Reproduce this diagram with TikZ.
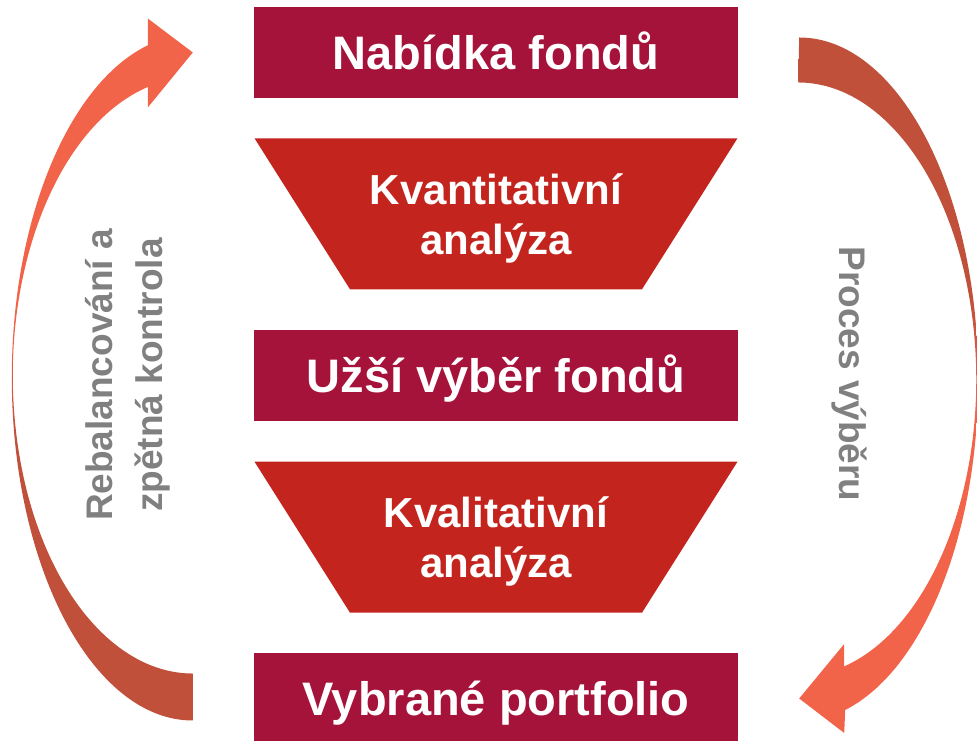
\documentclass[tikz,border=0pt]{standalone}
\usepackage{fontspec}
\setmainfont{Liberation Sans}
\usepackage{xcolor}
\definecolor{vinova}{RGB}{166, 19, 58}
\definecolor{cervena}{RGB}{195, 37, 30}
\definecolor{korala}{RGB}{242, 100, 74}
\definecolor{cihla}{RGB}{193, 80, 58}
\definecolor{seda}{RGB}{128, 128, 128}
\usetikzlibrary{shapes,calc,positioning}
\tikzstyle{box} =[rectangle, fill=vinova, text=white,
                  minimum width=484pt, minimum height=91pt,
                  inner sep=0pt, text height=34pt, text depth=0pt,
                  font=\fontsize{47}{56}\selectfont\bfseries]
\tikzstyle{trap}=[rectangle, minimum width=483pt, minimum height=151pt,
                  inner sep=0pt, text=white, align=center, text depth=0pt,
                  font=\fontsize{42}{50}\selectfont\bfseries,
                  path picture={\fill[cervena]
                      (path picture bounding box.north west)
                   -- (path picture bounding box.north east)
                   -- ([xshift=-95.5pt]path picture bounding box.south east)
                   -- ([xshift=95.5pt]path picture bounding box.south west)
                   -- cycle;}]
\tikzstyle{bok} =[text=seda, inner sep=0pt, align=center,
                  font=\fontsize{37}{50}\selectfont\bfseries]
\pgfdeclareverticalshading{rebalShade}{100bp}{color(0bp)=(cihla); color(45bp)=(cihla); color(53bp)=(korala); color(100bp)=(korala)}
\pgfdeclareverticalshading{procesShade}{100bp}{color(0bp)=(korala); color(48bp)=(korala); color(56bp)=(cihla); color(100bp)=(cihla)}

\begin{document}
\begin{tikzpicture}[x=1pt,y=1pt]
    \useasboundingbox (0,0) rectangle (977,741);

    \draw (496,688.5) node (nabidka) [box] {Nabídka fondů};
    \draw (496,527.2) node (kvanti) [trap] {Kvantitativní\\analýza};
    \draw (496,365.7) node (uzsi) [box] {Užší výběr fondů};
    \draw (496,203.8) node (kvali) [trap] {Kvalitativní\\analýza};
    \draw (496,42.5) node (portfolio) [box] {Vybrané portfolio};

    %sipka vlevo, portfolio -> nabidka
    \coordinate (rebalTail) at ([xshift=-61pt]portfolio.west);
    \coordinate (rebalTip) at ([xshift=-61pt]nabidka.west);
    \shade[shading=rebalShade] ([yshift=-22pt]rebalTail)
        arc[start angle=270, end angle=104.4, x radius=181pt, y radius=343pt]
        -- ([xshift=-45pt,yshift=34pt]rebalTip) -- (rebalTip)
        -- ([xshift=-45pt,yshift=-55pt]rebalTip) -- ++(0,20.5)
        arc[start angle=104.48, end angle=270, x radius=180pt, y radius=298pt] -- cycle;

    %sipka vpravo, nabidka -> portfolio
    \coordinate (procesTail) at ([xshift=61pt]nabidka.east);
    \coordinate (procesTip) at ([xshift=61pt]portfolio.east);
    \shade[shading=procesShade] ([yshift=15pt]procesTail)
        arc[start angle=90, end angle=-75.1, x radius=179pt, y radius=342pt]
        -- ([xshift=45pt,yshift=-34.5pt]procesTip) -- (procesTip)
        -- ([xshift=45pt,yshift=54.5pt]procesTip) -- ++(0,-22.4)
        arc[start angle=-75.03, end angle=90, x radius=178pt, y radius=297pt] -- cycle;

    \draw (839,367) node (proces) [bok, rotate=-90, anchor=base] {Proces výběru};
    \draw (128,366) node (rebal) [bok, rotate=90] {Rebalancování a\\zpětná kontrola};

\end{tikzpicture}
\end{document}
